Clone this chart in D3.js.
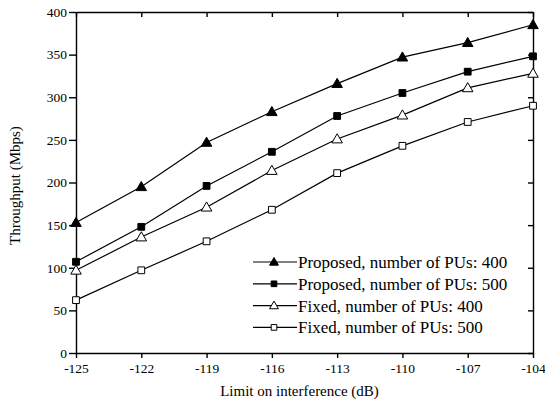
<!DOCTYPE html>
<html>
<head>
<meta charset="utf-8">
<script src="https://cdn.jsdelivr.net/npm/d3@7"></script>
<style>
  html, body { margin: 0; padding: 0; background: #fff; overflow: hidden; }
  svg { display: block; }
  svg text { font-family: "Liberation Serif", "DejaVu Serif", serif; fill: #000; }
  .axis path, .axis line { stroke: #000; stroke-width: 1.4; }
  .axis text { font-size: 13.5px; }
  .series { fill: none; stroke: #000; stroke-width: 1.2; }
</style>
</head>
<body>
<div id="chart"></div>
<script>
const xValues = [-125, -122, -119, -116, -113, -110, -107, -104];
const yTicks = [0, 50, 100, 150, 200, 250, 300, 350, 400];

const proposed400 = [153, 195, 247, 283, 316, 347, 364, 385];
const proposed500 = [107, 148, 196, 236, 278, 305, 330, 348];
const fixed400 = [97, 136, 171, 214, 251, 279, 311, 328];
const fixed500 = [62, 97, 131, 168, 211, 243, 271, 290];

const seriesNames = [
  "Proposed, number of PUs: 400",
  "Proposed, number of PUs: 500",
  "Fixed, number of PUs: 400",
  "Fixed, number of PUs: 500"
];
const seriesValues = [proposed400, proposed500, fixed400, fixed500];
const seriesMarkers = ["triangle", "square", "triangle", "square"];
const seriesFilled = [true, true, false, false];

const width = 545;
const height = 402;
const margin = { top: 12, right: 12, bottom: 49, left: 76 };
const innerWidth = width - margin.left - margin.right;
const innerHeight = height - margin.top - margin.bottom;

const svg = d3.select("#chart")
  .append("svg")
  .attr("width", width)
  .attr("height", height);

const g = svg.append("g").attr("transform", `translate(${margin.left},${margin.top})`);

const x = d3.scaleLinear().domain([-125, -104]).range([0, innerWidth]);
const y = d3.scaleLinear().domain([0, 400]).range([innerHeight, 0]);

// bottom / left: outward ticks with labels
g.append("g")
  .attr("class", "axis")
  .attr("transform", `translate(0,${innerHeight})`)
  .call(d3.axisBottom(x).tickValues(xValues).tickSize(5).tickPadding(5).tickSizeOuter(0).tickFormat(d => String(d)));

g.append("g")
  .attr("class", "axis")
  .call(d3.axisLeft(y).tickValues(yTicks).tickSize(7).tickPadding(2).tickSizeOuter(0));

// top / right: inward ticks, no labels
g.append("g")
  .attr("class", "axis")
  .call(d3.axisTop(x).tickValues(xValues).tickSize(-5).tickSizeOuter(0))
  .call(a => a.selectAll("text").remove());

g.append("g")
  .attr("class", "axis")
  .attr("transform", `translate(${innerWidth},0)`)
  .call(d3.axisRight(y).tickValues(yTicks).tickSize(-5).tickSizeOuter(0))
  .call(a => a.selectAll("text").remove());

svg.selectAll(".axis").attr("font-family", null).attr("font-size", null);

const line = d3.line()
  .x((d, i) => x(xValues[i]))
  .y(d => y(d));

const triangle = d3.symbol().type(d3.symbolTriangle);
const square = d3.symbol().type(d3.symbolSquare);

function markerPath(type, size) {
  return type === "triangle" ? triangle.size(size)() : square.size(size)();
}

seriesValues.forEach((vals, k) => {
  g.append("path")
    .attr("class", "series")
    .attr("d", line(vals));

  g.selectAll(null)
    .data(vals)
    .join("path")
    .attr("transform", (d, i) => {
      const dy = seriesMarkers[k] === "triangle" ? 0.8 : 0;
      return `translate(${x(xValues[i])},${y(d) + dy})`;
    })
    .attr("d", markerPath(seriesMarkers[k], seriesMarkers[k] === "triangle" ? 48 : 46))
    .attr("fill", seriesFilled[k] ? "#000" : "#fff")
    .attr("stroke", "#000")
    .attr("stroke-width", 1);
});

// legend
const legend = svg.append("g").attr("transform", "translate(253,262)");
seriesNames.forEach((name, k) => {
  const row = legend.append("g").attr("transform", `translate(0,${k * 21.8})`);
  row.append("line")
    .attr("x1", 0).attr("x2", 44)
    .attr("y1", 0).attr("y2", 0)
    .attr("stroke", "#000").attr("stroke-width", 1.2);
  row.append("path")
    .attr("transform", `translate(21,${seriesMarkers[k] === "triangle" ? 0.6 : 0})`)
    .attr("d", markerPath(seriesMarkers[k], seriesMarkers[k] === "triangle" ? 34 : 32))
    .attr("fill", seriesFilled[k] ? "#000" : "#fff")
    .attr("stroke", "#000")
    .attr("stroke-width", 1);
  row.append("text")
    .attr("x", 45)
    .attr("y", 0)
    .attr("dy", "0.35em")
    .attr("font-size", 17)
    .text(name);
});

// axis titles
svg.append("text")
  .attr("x", margin.left + innerWidth / 2 - 5)
  .attr("y", 396)
  .attr("text-anchor", "middle")
  .attr("font-size", 15)
  .text("Limit on interference (dB)");

svg.append("text")
  .attr("transform", `translate(20,${margin.top + innerHeight / 2 + 3}) rotate(-90)`)
  .attr("text-anchor", "middle")
  .attr("font-size", 15)
  .text("Throughput (Mbps)");
</script>
</body>
</html>
